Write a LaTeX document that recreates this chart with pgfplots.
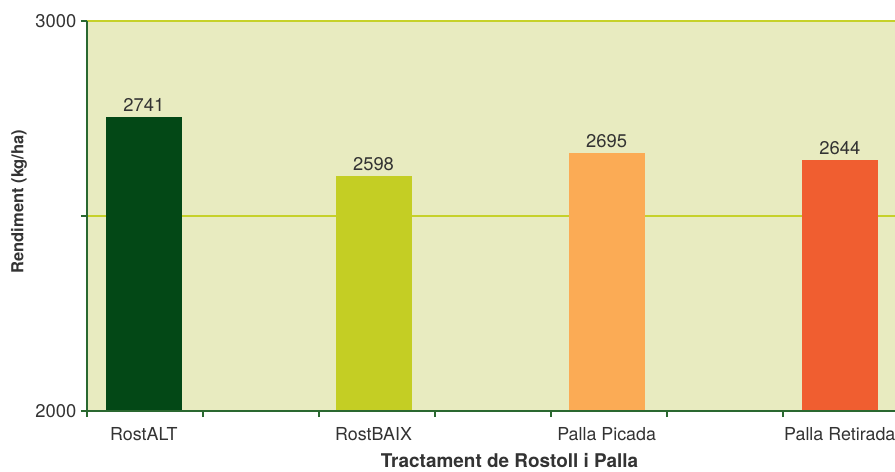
\documentclass[border=0pt]{standalone}
\usepackage{pgfplots}
\pgfplotsset{compat=1.18}
\usepackage{fontspec}
\setmainfont{TeX Gyre Heros}
\definecolor{bgc}{RGB}{232,235,192}
\definecolor{c1}{RGB}{3,72,22}
\definecolor{c2}{RGB}{196,206,36}
\definecolor{c3}{RGB}{251,171,85}
\definecolor{c4}{RGB}{240,94,48}
\definecolor{gridc}{RGB}{198,209,42}
\definecolor{axc}{RGB}{42,104,48}
\definecolor{txt}{RGB}{51,51,51}
\begin{document}
\begin{tikzpicture}[x=1pt,y=1pt]
\useasboundingbox (-65.25pt,-45pt) rectangle (606pt,308.25pt);
\begin{axis}[
  at={(0,0)}, anchor=origin,
  scale only axis, width=606pt, height=292.5pt,
  xmin=0, xmax=6.966, ymin=2000, ymax=3000,
  clip=false,
  axis on top,
  axis background/.style={fill=bgc},
  axis x line*=bottom, axis y line*=left,
  axis line style={draw=axc, line width=1.1pt},
  every outer x axis line/.append style={-}, every outer y axis line/.append style={-},
  xtick={0,1,2,3,4,5,6,7}, xticklabels={},
  ytick={2000,2500,3000}, yticklabels={2000,,3000},
  tick align=outside, major tick length=4.5pt,
  tick style={draw=axc, line width=1pt},
  extra x ticks={0.49,2.47,4.48,6.49},
  extra x tick labels={RostALT,RostBAIX,Palla Picada,Palla Retirada},
  extra x tick style={major tick length=0pt, tick label style={yshift=-8.5pt, font=\fontsize{13.4pt}{15pt}\selectfont}},
  tick label style={font=\fontsize{13.8pt}{15pt}\selectfont, text=txt},
  /pgf/number format/assume math mode=true,
  /pgf/number format/1000 sep={},
  xlabel={Tractament de Rostoll i Palla},
  ylabel={Rendiment (kg/ha)},
  x label style={at={(axis description cs:0.523,-0.144)}, anchor=base, font=\fontsize{14.2pt}{16pt}\selectfont\bfseries, text=txt},
  y label style={at={(axis description cs:-0.0842,0.537)}, anchor=center, font=\fontsize{12.4pt}{14pt}\selectfont\bfseries, text=txt},
  bar shift=0pt,
]
\addplot[draw=gridc, line width=0.9pt, forget plot] coordinates {(0,2500) (6.966,2500)};
\addplot[draw=gridc, line width=1.2pt, forget plot] coordinates {(0,3000) (6.966,3000)};
\pgfplotsset{every node near coord/.style={font=\fontsize{13.8pt}{15pt}\selectfont, text=txt, anchor=south, inner sep=0pt, yshift=3.6pt}}
\addplot[ybar, bar width=57pt, fill=c1, draw=none, point meta=explicit symbolic, nodes near coords] coordinates {(0.49,2754) [2741]};
\addplot[ybar, bar width=57pt, fill=c2, draw=none, point meta=explicit symbolic, nodes near coords] coordinates {(2.47,2603) [2598]};
\addplot[ybar, bar width=57pt, fill=c3, draw=none, point meta=explicit symbolic, nodes near coords] coordinates {(4.48,2662) [2695]};
\addplot[ybar, bar width=57pt, fill=c4, draw=none, point meta=explicit symbolic, nodes near coords] coordinates {(6.49,2644) [2644]};
\end{axis}
\end{tikzpicture}
\end{document}
